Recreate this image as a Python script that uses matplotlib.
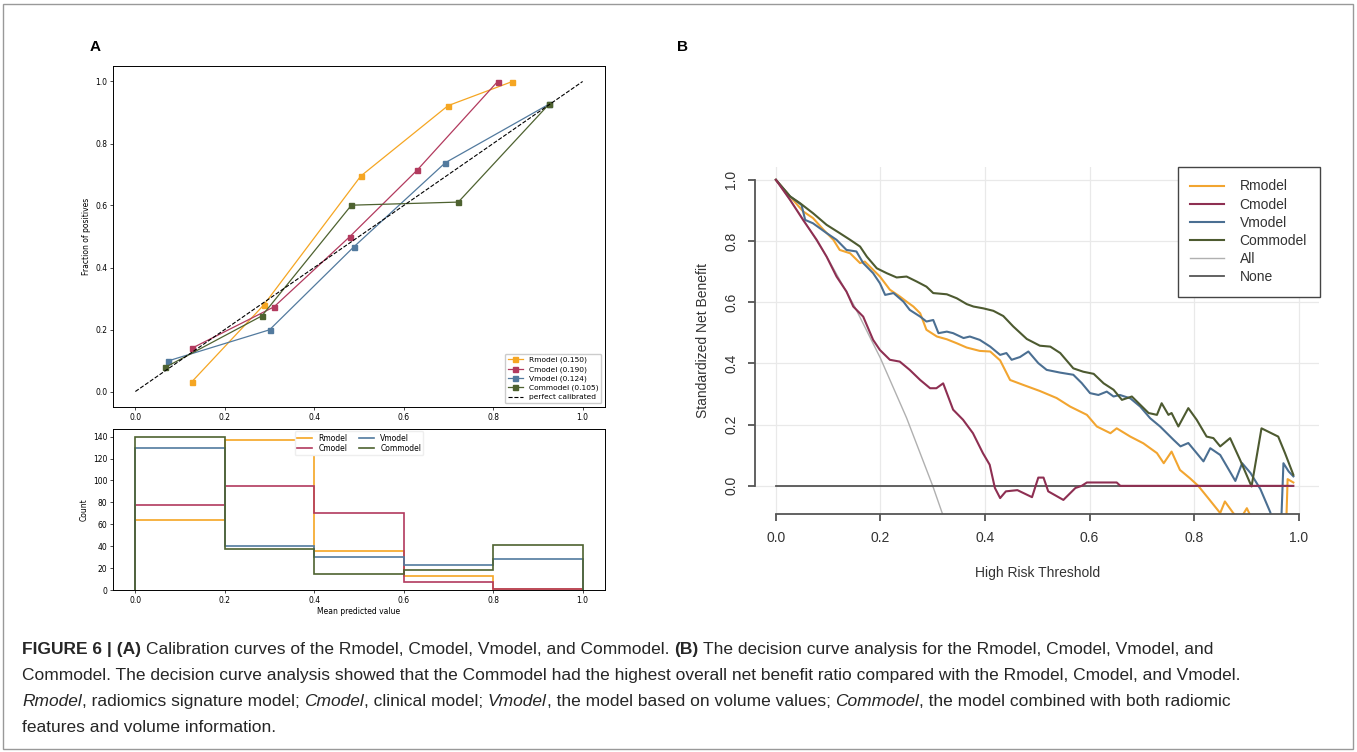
import matplotlib
matplotlib.use('Agg')
import matplotlib.pyplot as plt
from matplotlib.patches import Rectangle

W, H = 1357, 752

# ---------------- Panel A: calibration data ----------------
models = ['Rmodel', 'Cmodel', 'Vmodel', 'Commodel']
brier = ['0.150', '0.190', '0.124', '0.105']

r_pred = [0.126, 0.287, 0.504, 0.699, 0.843]
r_frac = [0.031, 0.279, 0.695, 0.922, 1.000]
c_pred = [0.127, 0.310, 0.479, 0.630, 0.810]
c_frac = [0.140, 0.273, 0.499, 0.714, 1.000]
v_pred = [0.074, 0.300, 0.488, 0.693, 0.925]
v_frac = [0.099, 0.199, 0.466, 0.738, 0.927]
com_pred = [0.067, 0.283, 0.483, 0.722, 0.925]
com_frac = [0.078, 0.244, 0.601, 0.611, 0.927]
diag = [0, 1]

# histogram of predicted values (bin edges and counts)
bin_edges = [0.0, 0.2, 0.4, 0.6, 0.8, 1.0]
r_counts = [64, 137, 36, 13, 1]
c_counts = [78, 95, 70, 7, 1]
v_counts = [130, 40, 30, 23, 28]
com_counts = [140, 37, 15, 18, 41]

# ---------------- Panel B: decision curves ----------------
r_thr = [0.0, 0.027, 0.052, 0.071, 0.091, 0.110, 0.122, 0.142, 0.161, 0.170,
         0.186, 0.199, 0.218, 0.237, 0.250, 0.263, 0.276, 0.288, 0.308, 0.327,
         0.346, 0.365, 0.390, 0.410, 0.429, 0.448, 0.473, 0.505, 0.537, 0.563,
         0.595, 0.614, 0.640, 0.652, 0.678, 0.703, 0.729, 0.742, 0.757, 0.773,
         0.792, 0.808, 0.827, 0.850, 0.859, 0.875, 0.888, 0.901, 0.907, 0.920,
         0.975, 0.979, 0.990]
r_nb = [1.0, 0.946, 0.897, 0.875, 0.837, 0.804, 0.771, 0.760, 0.728, 0.733,
        0.706, 0.684, 0.641, 0.619, 0.602, 0.586, 0.564, 0.510, 0.488, 0.479,
        0.466, 0.452, 0.441, 0.439, 0.410, 0.346, 0.330, 0.310, 0.287, 0.259,
        0.232, 0.194, 0.172, 0.188, 0.161, 0.139, 0.107, 0.074, 0.112, 0.052,
        0.025, 0.0, -0.040, -0.089, -0.051, -0.089, -0.110, -0.073, -0.095, -0.2,
        -0.2, 0.022, 0.011]

c_thr = [0.0, 0.027, 0.052, 0.078, 0.097, 0.116, 0.135, 0.148, 0.167, 0.186,
         0.199, 0.218, 0.237, 0.256, 0.276, 0.295, 0.307, 0.320, 0.339, 0.358,
         0.377, 0.396, 0.409, 0.419, 0.429, 0.440, 0.462, 0.490, 0.502, 0.512,
         0.521, 0.550, 0.573, 0.585, 0.595, 0.652, 0.659, 0.990]
c_nb = [1.0, 0.935, 0.869, 0.804, 0.749, 0.684, 0.635, 0.586, 0.553, 0.477,
        0.444, 0.412, 0.406, 0.379, 0.346, 0.319, 0.319, 0.335, 0.249, 0.216,
        0.172, 0.107, 0.069, -0.007, -0.040, -0.018, -0.014, -0.037, 0.027, 0.027,
        -0.018, -0.046, -0.007, 0.0, 0.011, 0.011, 0.0, 0.0]

v_thr = [0.0, 0.027, 0.049, 0.056, 0.071, 0.097, 0.116, 0.135, 0.154, 0.167,
         0.186, 0.199, 0.209, 0.225, 0.244, 0.256, 0.276, 0.288, 0.301, 0.311,
         0.327, 0.339, 0.359, 0.371, 0.390, 0.410, 0.429, 0.441, 0.451, 0.467,
         0.483, 0.502, 0.518, 0.544, 0.569, 0.585, 0.601, 0.617, 0.633, 0.646,
         0.658, 0.678, 0.697, 0.716, 0.735, 0.761, 0.774, 0.789, 0.805, 0.818,
         0.831, 0.850, 0.863, 0.879, 0.892, 0.908, 0.927, 0.946, 0.955, 0.965,
         0.971, 0.981, 0.990]
v_nb = [1.0, 0.946, 0.918, 0.869, 0.858, 0.826, 0.804, 0.771, 0.766, 0.728,
        0.695, 0.662, 0.624, 0.630, 0.602, 0.575, 0.553, 0.537, 0.542, 0.499,
        0.504, 0.499, 0.483, 0.488, 0.477, 0.455, 0.428, 0.434, 0.412, 0.421,
        0.439, 0.401, 0.379, 0.370, 0.363, 0.336, 0.303, 0.297, 0.308, 0.292,
        0.297, 0.286, 0.259, 0.221, 0.194, 0.150, 0.129, 0.140, 0.107, 0.080,
        0.123, 0.101, 0.063, 0.016, 0.074, 0.042, -0.011, -0.087, -0.2, -0.2,
        0.074, 0.047, 0.031]

com_thr = [0.0, 0.027, 0.046, 0.071, 0.097, 0.122, 0.142, 0.161, 0.174, 0.193,
           0.212, 0.231, 0.250, 0.269, 0.288, 0.301, 0.327, 0.346, 0.365, 0.378,
           0.397, 0.416, 0.435, 0.454, 0.480, 0.505, 0.525, 0.544, 0.569, 0.588,
           0.608, 0.627, 0.646, 0.662, 0.681, 0.697, 0.713, 0.729, 0.738, 0.751,
           0.757, 0.770, 0.789, 0.805, 0.824, 0.837, 0.850, 0.869, 0.888, 0.910,
           0.929, 0.961, 0.974, 0.990]
com_nb = [1.0, 0.946, 0.924, 0.891, 0.853, 0.826, 0.804, 0.782, 0.749, 0.711,
          0.695, 0.681, 0.684, 0.668, 0.651, 0.630, 0.626, 0.613, 0.594, 0.586,
          0.580, 0.572, 0.555, 0.521, 0.480, 0.458, 0.455, 0.434, 0.384, 0.373,
          0.366, 0.335, 0.314, 0.281, 0.292, 0.265, 0.238, 0.232, 0.270, 0.232,
          0.238, 0.194, 0.254, 0.216, 0.161, 0.156, 0.129, 0.156, 0.085, -0.002,
          0.188, 0.161, 0.107, 0.036]

all_thr = [0.0, 0.05, 0.10, 0.15, 0.20, 0.25, 0.30, 0.32]
all_nb = [1.0, 0.877, 0.741, 0.588, 0.417, 0.222, 0.0, -0.098]
none_thr = [0.0, 0.99]
none_nb = [0.0, 0.0]

colors_a = ['#f5a623', '#b23a5e', '#527a9e', '#4e6230']
colors_b = ['#f2a530', '#8e2f52', '#4b6f92', '#4d5a30']


def px_axes(fig, left, top, right, bottom):
    return fig.add_axes([left / W, 1 - bottom / H, (right - left) / W, (bottom - top) / H])


fig = plt.figure(figsize=(W / 100, H / 100), dpi=100)
fig.patch.set_facecolor('white')
plt.rcParams['font.family'] = ['DejaVu Sans']

# ---------------- calibration curves ----------------
ax_cal = px_axes(fig, 113, 66, 605, 407)
cal = [(r_pred, r_frac), (c_pred, c_frac), (v_pred, v_frac), (com_pred, com_frac)]
for (xp, yf), m, b, col in zip(cal, models, brier, colors_a):
    ax_cal.plot(xp, yf, 's-', color=col, lw=0.9, ms=3.6, label=f'{m} ({b})')
ax_cal.plot(diag, diag, 'k--', lw=0.8, label='perfect calibrated')
ax_cal.set_xlim(-0.05, 1.05)
ax_cal.set_ylim(-0.05, 1.05)
ax_cal.set_ylabel('Fraction of positives', fontsize=5.5, labelpad=3)
ax_cal.tick_params(labelsize=5.5, length=2, width=0.5, pad=2)
ax_cal.legend(loc='lower right', fontsize=5.4, handlelength=2, borderpad=0.4,
              labelspacing=0.35, framealpha=1, edgecolor='#cccccc')
for s in ax_cal.spines.values():
    s.set_linewidth(0.7)

# ---------------- histogram ----------------
ax_h = px_axes(fig, 113, 429, 605, 590)
hist = [r_counts, c_counts, v_counts, com_counts]
for cnt, m, col in zip(hist, models, colors_a):
    ax_h.stairs(cnt, bin_edges, color=col, lw=1.2, label=m)
ax_h.set_xlim(-0.05, 1.05)
ax_h.set_ylim(0, 147)
ax_h.set_yticks(range(0, 141, 20))
ax_h.set_xlabel('Mean predicted value', fontsize=5.5, labelpad=2)
ax_h.set_ylabel('Count', fontsize=5.5, labelpad=3)
ax_h.tick_params(labelsize=5.5, length=2, width=0.5, pad=2)
ax_h.legend(loc='upper center', ncol=2, fontsize=5.5, handlelength=2,
            borderpad=0.3, labelspacing=0.2, columnspacing=1.5, framealpha=1,
            edgecolor='#eeeeee', borderaxespad=0.3)
for s in ax_h.spines.values():
    s.set_linewidth(0.7)

# ---------------- decision curves ----------------
lab_font = ['Liberation Sans', 'DejaVu Sans']
ax_b = px_axes(fig, 755, 167, 1319.5, 514)
ax_b.set_xlim(-0.04, 1.04)
ax_b.set_ylim(-0.092, 1.042)
ax_b.set_xticks([0, 0.2, 0.4, 0.6, 0.8, 1.0])
ax_b.set_yticks([0, 0.2, 0.4, 0.6, 0.8, 1.0])
ax_b.grid(True, color='#e9e9e9', lw=0.9)
ax_b.set_axisbelow(True)

h_all, = ax_b.plot(all_thr, all_nb, color='#b0b0b0', lw=1.0, label='All')
h_none, = ax_b.plot(none_thr, none_nb, color='#555555', lw=1.3, label='None')
curves = [(r_thr, r_nb), (c_thr, c_nb), (v_thr, v_nb), (com_thr, com_nb)]
handles = []
for (t, nb), m, col in zip(curves, models, colors_b):
    h, = ax_b.plot(t, nb, color=col, lw=1.5, label=m)
    handles.append(h)
# keep Cmodel on top of the reference line at zero
handles[1].set_zorder(3)

for side in ['top', 'right']:
    ax_b.spines[side].set_visible(False)
for side in ['left', 'bottom']:
    ax_b.spines[side].set_color('#555555')
    ax_b.spines[side].set_linewidth(1.3)
ax_b.spines['left'].set_bounds(0, 1)
ax_b.spines['bottom'].set_bounds(0, 1)
ax_b.tick_params(length=5, width=1.3, color='#555555', labelsize=10,
                 labelcolor='#333333', pad=7)
ax_b.set_xticklabels(['0.0', '0.2', '0.4', '0.6', '0.8', '1.0'], family=lab_font)
ax_b.set_yticklabels(['0.0', '0.2', '0.4', '0.6', '0.8', '1.0'], family=lab_font,
                     rotation=90, va='center')
ax_b.set_xlabel('High Risk Threshold', fontsize=10, color='#333333', family=lab_font)
ax_b.set_ylabel('Standardized Net Benefit', fontsize=10, color='#333333', family=lab_font)
ax_b.xaxis.set_label_coords(0.5, -0.15)
ax_b.yaxis.set_label_coords(-0.08, 0.5)

leg = ax_b.legend(handles + [h_all, h_none], models + ['All', 'None'],
                  loc='upper right', borderaxespad=0, fancybox=False,
                  prop={'family': lab_font, 'size': 10}, handlelength=2.4,
                  handletextpad=1.15, borderpad=0.9, labelspacing=0.3,
                  framealpha=1)
leg.get_frame().set_edgecolor('#444444')
leg.get_frame().set_linewidth(1.0)
for t in leg.get_texts():
    t.set_color('#333333')

# ---------------- panel letters ----------------
fig.text(95 / W, 1 - 47 / H, 'A', fontsize=11, fontweight='bold',
         family=lab_font, ha='center', va='center')
fig.text(682 / W, 1 - 47 / H, 'B', fontsize=11, fontweight='bold',
         family=lab_font, ha='center', va='center')

# ---------------- caption ----------------
cax = fig.add_axes([0, 0, 1, 1])
cax.axis('off')
cap_size = 12.5
space = 0.27 * cap_size


def caption_line(parts, y):
    prev = None
    for txt, style, gap in parts:
        kw = dict(fontsize=cap_size, family=lab_font, color='#262626')
        if style == 'b':
            kw['fontweight'] = 'bold'
        elif style == 'i':
            kw['fontstyle'] = 'italic'
        if prev is None:
            prev = cax.text(22 / W, 1 - y / H, txt, ha='left', va='bottom',
                            transform=cax.transAxes, **kw)
        else:
            prev = cax.annotate(txt, xy=(1, 0), xycoords=prev,
                                xytext=(space if gap else 0, 0),
                                textcoords='offset points',
                                ha='left', va='bottom', **kw)


caption_line([('FIGURE 6 | (A)', 'b', False),
              ('Calibration curves of the Rmodel, Cmodel, Vmodel, and Commodel.', 'n', True),
              ('(B)', 'b', True),
              ('The decision curve analysis for the Rmodel, Cmodel, Vmodel, and', 'n', True)],
             657)
caption_line([('Commodel. The decision curve analysis showed that the Commodel had the '
               'highest overall net benefit ratio compared with the Rmodel, Cmodel, and Vmodel.',
               'n', False)], 683)
caption_line([('Rmodel', 'i', False), (', radiomics signature model;', 'n', False),
              ('Cmodel', 'i', True), (', clinical model;', 'n', False),
              ('Vmodel', 'i', True), (', the model based on volume values;', 'n', False),
              ('Commodel', 'i', True),
              (', the model combined with both radiomic', 'n', False)], 709)
caption_line([('features and volume information.', 'n', False)], 735)

# outer frame
fig.add_artist(Rectangle((3 / W, 3 / H), 1 - 7 / W, 1 - 7 / H, transform=fig.transFigure,
                         fill=False, edgecolor='#999999', lw=1.0))

fig.savefig('out.png', dpi=100)
